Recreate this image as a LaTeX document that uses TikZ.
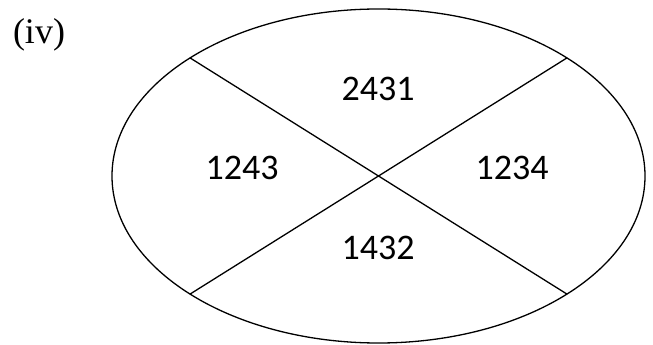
\documentclass[tikz,border=0pt]{standalone}
\usepackage{fontspec}
\setmainfont{Liberation Serif}
\newfontfamily\digitfont{Carlito}
\usetikzlibrary{shapes.geometric,calc}

\begin{document}
\begin{tikzpicture}[
  oval/.style={ellipse, draw=black, line width=1.3pt, minimum width=533pt, minimum height=334pt, inner sep=0pt},
  cut/.style={line width=1.3pt, draw=black},
  perm/.style={font=\digitfont\fontsize{36}{40}\selectfont, inner sep=0pt}
]
\useasboundingbox (0,0) rectangle (653pt,345pt);
\node[oval] (o) at (378.5pt,169pt) {};
\coordinate (ne) at ($(o.center)+(45:266.5pt and 167pt)$);
\coordinate (nw) at ($(o.center)+(135:266.5pt and 167pt)$);
\coordinate (sw) at ($(o.center)+(225:266.5pt and 167pt)$);
\coordinate (se) at ($(o.center)+(315:266.5pt and 167pt)$);
\draw[cut] (nw) -- (se);
\draw[cut] (ne) -- (sw);
\node[perm] (top) at (378pt,256pt) {2431};
\node[perm] (left) at (242pt,177pt) {1243};
\node[perm] (right) at (512pt,177pt) {1234};
\node[perm] (bottom) at (378pt,97pt) {1432};
\node[font=\fontsize{36}{40}\selectfont, inner sep=0pt] (tag) at (39pt,310pt) {(iv)};
\end{tikzpicture}
\end{document}
